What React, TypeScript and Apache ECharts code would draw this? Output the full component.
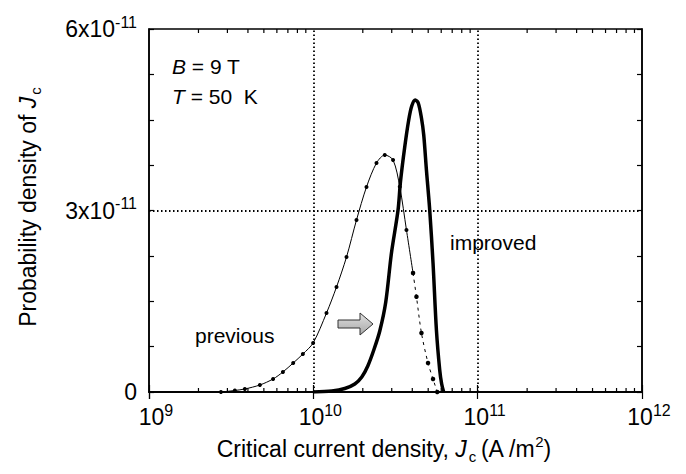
import React, { useEffect, useRef } from "react";
import * as echarts from "echarts";

// Jc in A/m^2, probability density in units of 1e-11
const previousJ = [2.74e9, 3.33e9, 3.83e9, 4.73e9, 5.69e9, 6.53e9, 7.54e9, 8.64e9, 9.97e9, 1.203e10, 1.384e10, 1.592e10, 1.831e10, 2.106e10, 2.423e10, 2.721e10, 3.056e10, 3.357e10, 3.687e10, 4.043e10];
const previousP = [0, 0.025, 0.05, 0.116, 0.215, 0.331, 0.479, 0.628, 0.81, 1.306, 1.736, 2.231, 2.843, 3.388, 3.785, 3.917, 3.835, 3.393, 2.678, 1.967];
const previousTailJ = [4.043e10, 4.241e10, 4.549e10, 4.988e10, 5.35e10, 5.675e10];
const previousTailP = [1.967, 1.575, 0.975, 0.479, 0.215, 0];
const improvedJ = [1.0e10, 1.296e10, 1.554e10, 1.788e10, 1.972e10, 2.145e10, 2.333e10, 2.537e10, 2.759e10, 2.988e10, 3.277e10, 3.389e10, 3.599e10, 3.806e10, 3.97e10, 4.17e10, 4.349e10, 4.549e10, 4.697e10, 4.878e10, 5.108e10, 5.35e10, 5.61e10, 5.875e10, 6.04e10, 6.21e10];
const improvedP = [0, 0.0165, 0.058, 0.132, 0.248, 0.43, 0.694, 1.008, 1.488, 2.298, 3.008, 3.471, 4.05, 4.496, 4.727, 4.826, 4.777, 4.529, 4.248, 3.669, 3.008, 2.132, 1.025, 0.364, 0.132, 0];
const minorTickJ = [2e9, 3e9, 4e9, 5e9, 6e9, 7e9, 8e9, 9e9, 2e10, 3e10, 4e10, 5e10, 6e10, 7e10, 8e10, 9e10, 2e11, 3e11, 4e11, 5e11, 6e11, 7e11, 8e11, 9e11];
const gridJ = [1e10, 1e11];
const gridP = [3];
const yLabelValues = [0, 3, 6];
const yLabelTexts = ["0", "3x10", "6x10"];
const yLabelExponent = "-11";

const FONT = "'Liberation Sans', Arial, Helvetica, sans-serif";

const zip = (a: number[], b: number[]) => a.map((v, i) => [v, b[i]]);

export default function App() {
  const ref = useRef<HTMLDivElement>(null);
  useEffect(() => {
    if (!ref.current) return;
    const chart = echarts.init(ref.current, null, { renderer: "svg" });
    const supRich = {
      b: { fontSize: 23, fontFamily: FONT, color: "#000", lineHeight: 30 },
      s: { fontSize: 16, fontFamily: FONT, color: "#000", lineHeight: 16, verticalAlign: "top" },
    };
    const xAxisCommon = {
      type: "log",
      logBase: 10,
      min: 1e9,
      max: 1e12,
      axisLine: { show: true, lineStyle: { color: "#000", width: 1.5 } },
      axisTick: { show: true, inside: true, length: 7, lineStyle: { color: "#000", width: 1.2 } },
      splitLine: { show: false },
    };
    const yAxisCommon = {
      type: "value",
      min: 0,
      max: 6,
      interval: 0.75,
      axisLine: { show: true, lineStyle: { color: "#000", width: 1.5 } },
      axisTick: { show: true, inside: true, length: 5, lineStyle: { color: "#000", width: 1.2 } },
      splitLine: { show: false },
    };
    const bigRich = {
      a: { fontSize: 23, fontFamily: FONT, color: "#000", lineHeight: 30 },
      i: { fontSize: 23, fontFamily: FONT, fontStyle: "italic", color: "#000", lineHeight: 30 },
      sub: { fontSize: 15, fontFamily: FONT, color: "#000", lineHeight: 15, verticalAlign: "bottom", padding: [0, 4, 0, 2] },
      sup: { fontSize: 15, fontFamily: FONT, color: "#000", lineHeight: 15, verticalAlign: "top" },
    };
    const annRich = {
      a: { fontSize: 21, fontFamily: FONT, color: "#000" },
      i: { fontSize: 21, fontFamily: FONT, fontStyle: "italic", color: "#000" },
    };
    chart.setOption({
      animation: false,
      backgroundColor: "#fff",
      grid: { left: 149, right: 44, top: 29, bottom: 82, show: true, borderColor: "#000", borderWidth: 1.5 },
      xAxis: [
        {
          ...xAxisCommon,
          position: "bottom",
          axisLabel: {
            show: true,
            margin: 10,
            formatter: (v: number) => `{b|10}{s|${Math.round(Math.log10(v))}}`,
            rich: supRich,
            padding: [0, 0, 0, 14],
          },
        },
        { ...xAxisCommon, position: "top", axisLabel: { show: false } },
      ],
      yAxis: [
        {
          ...yAxisCommon,
          position: "left",
          axisLabel: {
            show: true,
            margin: 12,
            formatter: (v: number) => {
              const i = yLabelValues.findIndex((y) => Math.abs(y - v) < 1e-6);
              if (i < 0) return "";
              if (yLabelValues[i] === 0) return `{b|${yLabelTexts[i]}}`;
              return `{b|${yLabelTexts[i]}}{s|${yLabelExponent}}`;
            },
            rich: supRich,
          },
        },
        { ...yAxisCommon, position: "right", axisLabel: { show: false } },
      ],
      series: [
        {
          type: "line",
          name: "previous",
          data: zip(previousJ, previousP),
          smooth: 0.3,
          symbol: "circle",
          symbolSize: 4,
          itemStyle: { color: "#000" },
          lineStyle: { color: "#000", width: 1 },
          z: 3,
          markLine: {
            silent: true,
            symbol: "none",
            label: { show: false },
            lineStyle: { color: "#000", width: 1.8, type: [1.5, 2.5] },
            data: [...gridJ.map((x) => ({ xAxis: x })), ...gridP.map((y) => ({ yAxis: y }))],
          },
        },
        {
          type: "line",
          name: "previous tail",
          data: zip(previousTailJ, previousTailP),
          smooth: 0.3,
          symbol: "circle",
          symbolSize: 4.5,
          itemStyle: { color: "#000" },
          lineStyle: { color: "#000", width: 1, type: [3, 4] },
          z: 3,
        },
        {
          type: "line",
          name: "improved",
          data: zip(improvedJ, improvedP),
          smooth: 0.3,
          showSymbol: false,
          symbol: "none",
          lineStyle: { color: "#000", width: 3.5 },
          z: 4,
        },
        {
          type: "custom",
          name: "minor ticks",
          data: minorTickJ.map((j) => [j, 0]),
          silent: true,
          renderItem: (params: any, api: any) => {
            const x = api.value(0);
            const bot = api.coord([x, 0]);
            const top = api.coord([x, 6]);
            const st = { stroke: "#000", lineWidth: 1.2 };
            return {
              type: "group",
              children: [
                { type: "line", shape: { x1: bot[0], y1: bot[1], x2: bot[0], y2: bot[1] - 4 }, style: st },
                { type: "line", shape: { x1: top[0], y1: top[1], x2: top[0], y2: top[1] + 4 }, style: st },
              ],
            };
          },
        },
      ],
      graphic: [
        {
          type: "text",
          x: 384,
          y: 449,
          style: {
            text: "{a|Critical current density, }{i|J}{sub|c}{a|(A /m}{sup|2}{a|)}",
            align: "center",
            verticalAlign: "middle",
            rich: bigRich,
          },
        },
        {
          type: "text",
          x: 28,
          y: 205,
          rotation: Math.PI / 2,
          style: {
            text: "{a|Probability density of }{i|J}{sub|c}",
            align: "center",
            verticalAlign: "middle",
            rich: bigRich,
          },
        },
        {
          type: "text",
          x: 172,
          y: 66,
          style: { text: "{i|B}{a| = 9 T}", verticalAlign: "middle", rich: annRich },
        },
        {
          type: "text",
          x: 172,
          y: 96,
          style: { text: "{i|T}{a| = 50  K}", verticalAlign: "middle", rich: annRich },
        },
        {
          type: "text",
          x: 450,
          y: 242,
          style: { text: "improved", fontSize: 21, fontFamily: FONT, fill: "#000", verticalAlign: "middle" },
        },
        {
          type: "text",
          x: 195,
          y: 335,
          style: { text: "previous", fontSize: 21, fontFamily: FONT, fill: "#000", verticalAlign: "middle" },
        },
        {
          type: "polygon",
          shape: { points: [[338, 320], [360, 320], [360, 313], [373, 324], [360, 335], [360, 328], [338, 328]] },
          style: {
            fill: new echarts.graphic.LinearGradient(0, 0, 0, 1, [
              { offset: 0, color: "#e0e0e0" },
              { offset: 1, color: "#a8a8a8" },
            ]),
            stroke: "#333",
            lineWidth: 1,
          },
          z: 10,
        },
      ],
    });
    return () => chart.dispose();
  }, []);
  return <div ref={ref} style={{ position: "fixed", left: 0, top: 0, width: 686, height: 474 }} />;
}
